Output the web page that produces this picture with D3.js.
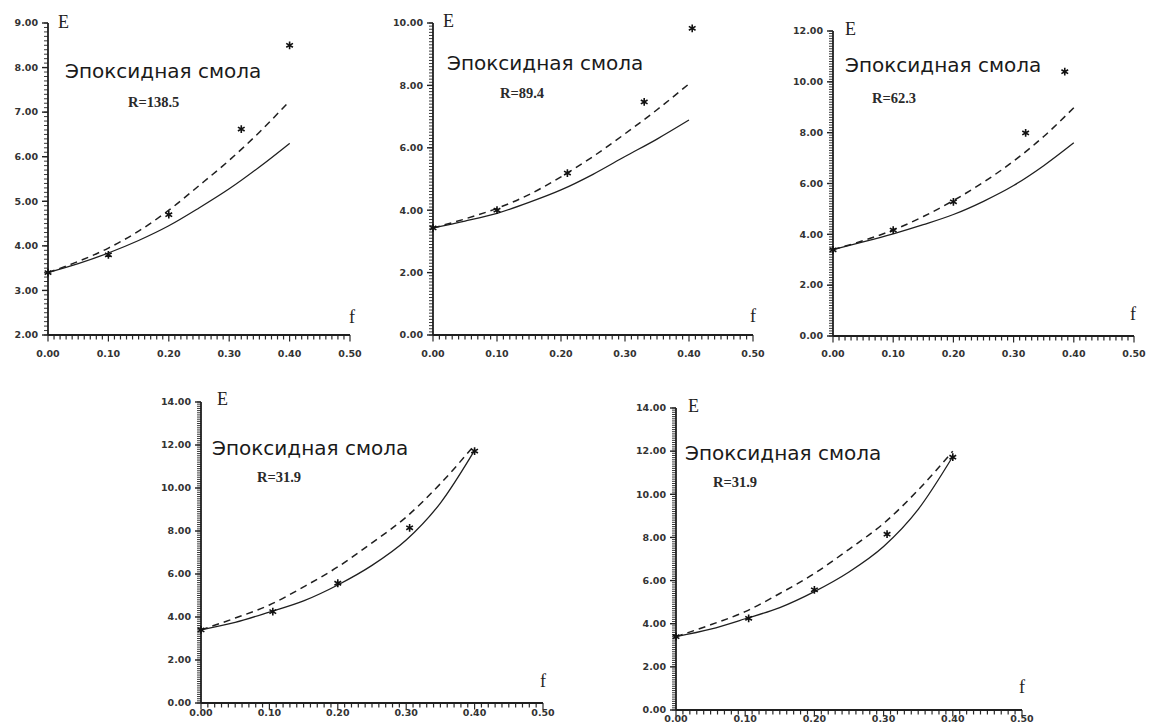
<!DOCTYPE html>
<html>
<head>
<meta charset="utf-8">
<script src="https://cdn.jsdelivr.net/npm/d3@7"></script>
<style>
  html, body { margin: 0; padding: 0; background: #fff; }
  svg { display: block; }
</style>
</head>
<body>
<svg id="chart" width="1152" height="728"></svg>
<script>
// Volume fraction grid used for the model curves
const fGrid = [0, 0.05, 0.10, 0.15, 0.20, 0.25, 0.30, 0.35, 0.40];

// R = 138.5
const solid138 = [3.40, 3.60, 3.84, 4.12, 4.45, 4.85, 5.28, 5.77, 6.30];
const dashed138 = [3.40, 3.65, 3.95, 4.33, 4.80, 5.35, 5.92, 6.55, 7.25];
const fExp138 = [0, 0.10, 0.20, 0.32, 0.40];
const eExp138 = [3.40, 3.80, 4.70, 6.62, 8.50];

// R = 89.4
const solid894 = [3.43, 3.65, 3.90, 4.25, 4.65, 5.15, 5.72, 6.28, 6.89];
const dashed894 = [3.43, 3.72, 4.06, 4.50, 5.07, 5.72, 6.45, 7.22, 8.05];
const fExp894 = [0, 0.10, 0.21, 0.33, 0.405];
const eExp894 = [3.43, 4.00, 5.19, 7.47, 9.83];

// R = 62.3
const solid623 = [3.40, 3.70, 4.02, 4.38, 4.78, 5.30, 5.92, 6.70, 7.60];
const dashed623 = [3.40, 3.75, 4.17, 4.70, 5.33, 6.05, 6.88, 7.85, 8.98];
const fExp623 = [0, 0.10, 0.20, 0.32, 0.385];
const eExp623 = [3.39, 4.17, 5.28, 7.99, 10.40];

// R = 31.9
const solid319 = [3.40, 3.75, 4.23, 4.75, 5.49, 6.40, 7.58, 9.30, 11.75];
const dashed319 = [3.40, 3.95, 4.56, 5.40, 6.33, 7.45, 8.65, 10.20, 12.00];
const fExp319 = [0, 0.105, 0.20, 0.305, 0.40];
const eExp319 = [3.40, 4.25, 5.57, 8.15, 11.72];

// Axis tick labels
const fTicks = [0, 0.1, 0.2, 0.3, 0.4, 0.5];
const eTicks138 = [2, 3, 4, 5, 6, 7, 8, 9];
const eTicks894 = [0, 2, 4, 6, 8, 10];
const eTicks623 = [0, 2, 4, 6, 8, 10, 12];
const eTicks319 = [0, 2, 4, 6, 8, 10, 12, 14];

const materialName = "Эпоксидная смола";
const rLabels = ["R=138.5", "R=89.4", "R=62.3", "R=31.9", "R=31.9"];

// Panel frames (pixel placement of each small plot)
const layout = [
  { x0: 48,  x1: 350,  yb: 335, yt: 23,  dom: [2, 9],  title: [65, 78],   r: [128, 107], e: [58, 28],   f: [349, 323],  xlab: 22 },
  { x0: 433, x1: 753,  yb: 335, yt: 23,  dom: [0, 10], title: [447, 70],  r: [500, 98],  e: [443, 27],  f: [750, 322],  xlab: 22 },
  { x0: 833, x1: 1134, yb: 336, yt: 31,  dom: [0, 12], title: [845, 72],  r: [872, 103], e: [845, 35],  f: [1130, 320], xlab: 21 },
  { x0: 201, x1: 543,  yb: 703, yt: 402, dom: [0, 14], title: [212, 455], r: [257, 482], e: [217, 405], f: [540, 687],  xlab: 13 },
  { x0: 676, x1: 1022, yb: 710, yt: 408, dom: [0, 14], title: [685, 460], r: [713, 487], e: [688, 412], f: [1019, 693], xlab: 12 }
];

const panels = [
  { solid: solid138, dashed: dashed138, fExp: fExp138, eExp: eExp138, eTicks: eTicks138 },
  { solid: solid894, dashed: dashed894, fExp: fExp894, eExp: eExp894, eTicks: eTicks894 },
  { solid: solid623, dashed: dashed623, fExp: fExp623, eExp: eExp623, eTicks: eTicks623 },
  { solid: solid319, dashed: dashed319, fExp: fExp319, eExp: eExp319, eTicks: eTicks319 },
  { solid: solid319, dashed: dashed319, fExp: fExp319, eExp: eExp319, eTicks: eTicks319 }
];

const svg = d3.select("#chart");
const ink = "#1f1f1f";
const fmt = d3.format(".2f");

panels.forEach((p, i) => {
  const L = layout[i];
  const g = svg.append("g");
  const x = d3.scaleLinear().domain([0, 0.5]).range([L.x0, L.x1]);
  const y = d3.scaleLinear().domain(L.dom).range([L.yb, L.yt]);

  // ladder of small ticks along the f axis, one per 0.01
  const fMinor = d3.range(0, 51).map(k => k / 100);
  g.append("g").selectAll("line").data(fMinor).join("line")
    .attr("x1", d => x(d)).attr("x2", d => x(d))
    .attr("y1", L.yb).attr("y2", (d, k) => L.yb + (k % 10 === 0 ? 6.5 : 4.5))
    .attr("stroke", "#2a2a2a").attr("stroke-width", 1.2);

  // ladder of small ticks along the E axis, one per 0.1
  const nE = Math.round((L.dom[1] - L.dom[0]) * 10);
  const eMinor = d3.range(0, nE + 1).map(k => L.dom[0] + k / 10);
  g.append("g").selectAll("line").data(eMinor).join("line")
    .attr("y1", d => y(d)).attr("y2", d => y(d))
    .attr("x1", L.x0).attr("x2", L.x0 - 4)
    .attr("stroke", "#3a3a3a").attr("stroke-width", 1);

  // major ticks on E axis
  g.append("g").selectAll("line").data(p.eTicks).join("line")
    .attr("y1", d => y(d)).attr("y2", d => y(d))
    .attr("x1", L.x0).attr("x2", L.x0 - 6)
    .attr("stroke", "#222").attr("stroke-width", 1.4);

  // axis lines
  g.append("line").attr("x1", L.x0).attr("x2", L.x0).attr("y1", L.yb).attr("y2", L.yt)
    .attr("stroke", ink).attr("stroke-width", 1.8);
  g.append("line").attr("x1", L.x0).attr("x2", L.x1).attr("y1", L.yb).attr("y2", L.yb)
    .attr("stroke", ink).attr("stroke-width", 1.8);

  // tick labels
  g.append("g").selectAll("text").data(p.eTicks).join("text")
    .attr("x", L.x0 - 10).attr("y", d => y(d)).attr("dy", "0.35em")
    .attr("text-anchor", "end")
    .attr("font-family", "DejaVu Sans, sans-serif").attr("font-size", 9.5).attr("font-weight", "bold")
    .attr("fill", "#333").text(d => fmt(d));
  g.append("g").selectAll("text").data(fTicks).join("text")
    .attr("x", d => x(d)).attr("y", L.yb + L.xlab)
    .attr("text-anchor", "middle")
    .attr("font-family", "DejaVu Sans, sans-serif").attr("font-size", 9.5).attr("font-weight", "bold")
    .attr("fill", "#333").text(d => fmt(d));

  // model curves
  const line = d3.line().x((d, k) => x(fGrid[k])).y(d => y(d)).curve(d3.curveMonotoneX);
  g.append("path").datum(p.solid).attr("d", line)
    .attr("fill", "none").attr("stroke", ink).attr("stroke-width", 1.3);
  g.append("path").datum(p.dashed).attr("d", line)
    .attr("fill", "none").attr("stroke", ink).attr("stroke-width", 1.5)
    .attr("stroke-dasharray", "7,5");

  // experimental points
  const star = d3.symbol().type(d3.symbolAsterisk).size(42);
  g.append("g").selectAll("path").data(p.fExp).join("path")
    .attr("transform", (d, k) => `translate(${x(d)},${y(p.eExp[k])})`)
    .attr("d", star).attr("fill", "none").attr("stroke", "#111").attr("stroke-width", 1.6);

  // annotations
  g.append("text").attr("x", L.title[0]).attr("y", L.title[1])
    .attr("font-family", "DejaVu Sans, sans-serif").attr("font-size", 20)
    .attr("fill", "#1a1a1a").text(materialName);
  g.append("text").attr("x", L.r[0]).attr("y", L.r[1])
    .attr("font-family", "Liberation Serif, serif").attr("font-size", 14.5).attr("font-weight", "bold")
    .attr("fill", "#2a2a2a").text(rLabels[i]);
  g.append("text").attr("x", L.e[0]).attr("y", L.e[1])
    .attr("font-family", "Liberation Serif, serif").attr("font-size", 18)
    .attr("fill", "#222").text("E");
  g.append("text").attr("x", L.f[0]).attr("y", L.f[1])
    .attr("font-family", "Liberation Serif, serif").attr("font-size", 18)
    .attr("fill", "#222").text("f");
});
</script>
</body>
</html>
